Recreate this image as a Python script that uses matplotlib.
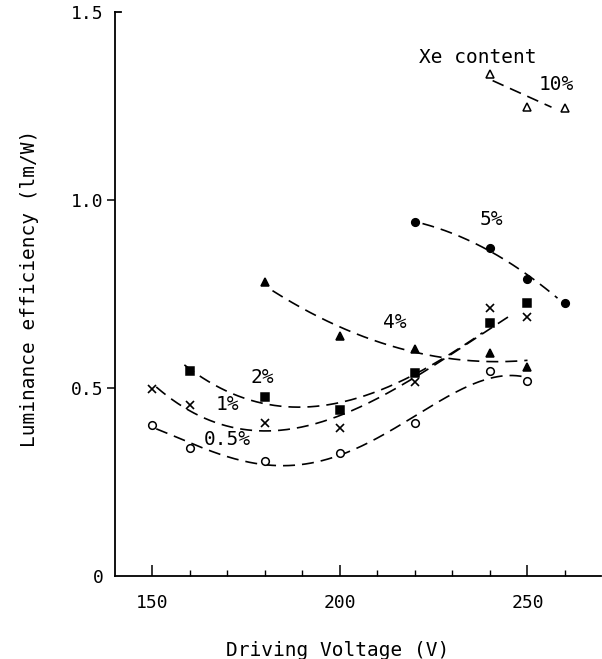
import numpy as np
import matplotlib
matplotlib.use("Agg")
import matplotlib.pyplot as plt

plt.rcParams['font.family'] = ['DejaVu Sans Mono', 'DejaVu Sans']

# Xe content series: voltage (V) and luminance efficiency (lm/W)
v_05 = [150, 160, 180, 200, 220, 240, 250]
e_05 = [0.402, 0.340, 0.306, 0.327, 0.407, 0.545, 0.519]

v_1 = [150, 160, 180, 200, 220, 240, 250]
e_1 = [0.497, 0.455, 0.407, 0.394, 0.516, 0.713, 0.689]

v_2 = [160, 180, 200, 220, 240, 250]
e_2 = [0.545, 0.476, 0.441, 0.540, 0.673, 0.726]

v_4 = [180, 200, 220, 240, 250]
e_4 = [0.782, 0.638, 0.604, 0.593, 0.556]

v_5 = [220, 240, 250, 260]
e_5 = [0.941, 0.872, 0.790, 0.726]

v_10 = [240, 250, 260]
e_10 = [1.335, 1.247, 1.245]

series = [
    # values, marker, filled, fit degree, curve span, label, label pos
    (v_05, e_05, 'o', False, 4, (151, 250), '0.5%', (170, 0.362)),
    (v_1, e_1, 'x', True, 3, (151, 246), '1%', (170, 0.455)),
    (v_2, e_2, 's', True, 3, (158.5, 238), '2%', (179.3, 0.527)),
    (v_4, e_4, '^', True, 2, (182, 250), '4%', (214.5, 0.673)),
    (v_5, e_5, 'o', True, 2, (222, 258), '5%', (240.4, 0.947)),
    (v_10, e_10, '^', False, 1, (240.7, 256.4), '10%', (257.7, 1.306)),
]
msizes = {'o': 5.5, 'x': 6, 's': 5.5, '^': 6}

fig = plt.figure(figsize=(6.02, 6.59), dpi=100)
ax = fig.add_axes([115 / 602, 83 / 659, 486 / 602, 564 / 659])

for v, e, mk, filled, deg, span, lab, pos in series:
    coef = np.polyfit(v, e, deg)
    xs = np.linspace(span[0], span[1], 200)
    ax.plot(xs, np.polyval(coef, xs), color='black', lw=1.2,
            dashes=(7.2, 4.2))
    if mk == 'x':
        ax.plot(v, e, linestyle='none', marker='x', color='black',
                ms=msizes[mk], mew=1.2)
    else:
        ax.plot(v, e, linestyle='none', marker=mk, ms=msizes[mk],
                mfc='black' if filled else 'white', mec='black', mew=1.1)
    ax.text(pos[0], pos[1], lab, fontsize=14, ha='center', va='center')

ax.text(236.7, 1.378, 'Xe content', fontsize=14, ha='center', va='center')

ax.set_xlim(140, 269.6)
ax.set_ylim(0, 1.5)
ax.spines['top'].set_visible(False)
ax.spines['right'].set_visible(False)
for s in ax.spines.values():
    s.set_linewidth(1.3)

ax.set_xticks([150, 200, 250])
ax.set_xticks(np.arange(160, 270, 10), minor=True)
ax.tick_params(axis='x', which='major', direction='in', length=8, width=1.1,
               labelsize=13, pad=13)
ax.tick_params(axis='x', which='minor', direction='in', length=4, width=1.0)

ax.set_yticks([0, 0.5, 1.0, 1.5])
ax.set_yticklabels(['0', '0.5', '1.0', '1.5'])
ax.tick_params(axis='y', direction='out', length=6, width=1.1,
               labelsize=13, pad=2)
ax.yaxis.get_major_ticks()[0].tick1line.set_visible(False)
ax.yaxis.get_major_ticks()[-1].tick1line.set_visible(False)
ax.axhline(1.5, xmin=0, xmax=0.012, color='black', lw=1.3, clip_on=False)

fig.text(338 / 602, 1 - 650 / 659, 'Driving Voltage (V)', fontsize=14,
         ha='center', va='center')
fig.text(30 / 602, 1 - 288 / 659, 'Luminance efficiency (lm/W)', fontsize=14,
         ha='center', va='center', rotation=90)

fig.savefig('out.png', dpi=100)
